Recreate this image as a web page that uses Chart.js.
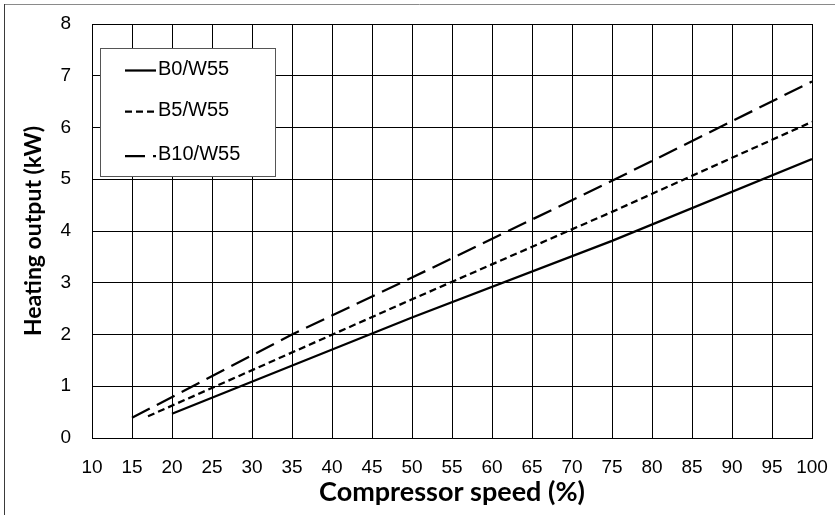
<!DOCTYPE html>
<html><head><meta charset="utf-8">
<script src="https://cdn.jsdelivr.net/npm/chart.js@4/dist/chart.umd.min.js"></script>
<style>
html,body{margin:0;padding:0;background:#fff;}
#wrap{position:relative;width:835px;height:515px;}
canvas{display:block;}
</style></head><body>
<div id="wrap"><canvas id="c" width="835" height="515"></canvas></div>
<script>
// ---- data ----
const seriesNames = ['B0/W55', 'B5/W55', 'B10/W55'];
const b0X  = [20, 50, 75, 100];
const b0Y  = [0.47, 2.33, 3.81, 5.39];
const b5X  = [17, 50, 75, 100];
const b5Y  = [0.42, 2.68, 4.37, 6.11];
const b10X = [15, 35, 50, 75, 100];
const b10Y = [0.39, 2.0, 3.1, 4.97, 6.89];
const xTickValues = [10,15,20,25,30,35,40,45,50,55,60,65,70,75,80,85,90,95,100];
const yTickValues = [0,1,2,3,4,5,6,7,8];
const xTitle = 'Compressor speed (%)';
const yTitle = 'Heating output (kW)';

const dashes = [[], [7, 4], [20, 8]];
const toPts = (xs, ys) => xs.map((x, i) => ({x, y: ys[i]}));

const frame = {
  id: 'frame',
  beforeDraw(chart) {
    const ctx = chart.ctx;
    ctx.save();
    ctx.fillStyle = '#fff';
    ctx.fillRect(0, 0, chart.width, chart.height);
    ctx.lineWidth = 1;
    ctx.strokeStyle = '#8a8a8a';
    ctx.beginPath(); ctx.moveTo(4, 4.5); ctx.lineTo(chart.width, 4.5); ctx.stroke();
    ctx.strokeStyle = '#3a3a3a';
    ctx.beginPath(); ctx.moveTo(4.5, 4); ctx.lineTo(4.5, chart.height); ctx.stroke();
    ctx.restore();
  }
};

const boxLegend = {
  id: 'boxLegend',
  afterDatasetsDraw(chart) {
    const ctx = chart.ctx;
    const a = chart.chartArea;
    const bx = a.left + 8, by = a.top + 24, bw = 175, bh = 128;
    ctx.save();
    ctx.fillStyle = '#fff';
    ctx.fillRect(bx, by, bw, bh);
    ctx.strokeStyle = '#555';
    ctx.lineWidth = 1;
    ctx.strokeRect(bx + 0.5, by + 0.5, bw, bh);
    const rows = [22.5, 63.5, 108];
    chart.data.datasets.forEach((ds, i) => {
      const y = by + rows[i];
      ctx.setLineDash(ds.borderDash || []);
      ctx.lineDashOffset = 0;
      ctx.lineWidth = 2.25;
      ctx.strokeStyle = '#000';
      ctx.beginPath(); ctx.moveTo(bx + 25, y); ctx.lineTo(bx + 56, y); ctx.stroke();
      ctx.setLineDash([]);
      ctx.fillStyle = '#000';
      ctx.font = '20px "Liberation Sans", Arial, sans-serif';
      ctx.textBaseline = 'middle';
      ctx.textAlign = 'left';
      ctx.fillText(ds.label, bx + 58, y - 1.5);
    });
    ctx.restore();
  }
};

const datasets = [
  {label: seriesNames[0], data: toPts(b0X, b0Y)},
  {label: seriesNames[1], data: toPts(b5X, b5Y)},
  {label: seriesNames[2], data: toPts(b10X, b10Y)}
].map((d, i) => Object.assign(d, {
  borderColor: '#000', backgroundColor: '#000', borderWidth: 2.25,
  borderDash: dashes[i], pointRadius: 0, tension: 0, fill: false, borderCapStyle: 'butt'
}));

new Chart(document.getElementById('c'), {
  type: 'line',
  data: {datasets},
  options: {
    responsive: false, animation: false, devicePixelRatio: 1,
    layout: {padding: {left: 4, right: 23, top: 24, bottom: 0}},
    plugins: {legend: {display: false}, tooltip: {enabled: false}},
    scales: {
      x: {
        type: 'linear', min: 10, max: 100,
        afterBuildTicks: s => { s.ticks = xTickValues.map(v => ({value: v})); },
        afterFit: s => { s.height = 77; s.paddingLeft = 0; s.paddingRight = 0; },
        grid: {color: '#000', lineWidth: 1, drawTicks: false},
        border: {color: '#000', width: 1},
        ticks: {color: '#000', font: {family: '"Liberation Sans", Arial, sans-serif', size: 19}, padding: 18, maxRotation: 0, autoSkip: false},
        title: {display: true, text: xTitle, color: '#000', font: {family: 'Lato, sans-serif', weight: 'bold', size: 27}, padding: {top: 7, bottom: 7}}
      },
      y: {
        type: 'linear', min: 0, max: 8,
        afterBuildTicks: s => { s.ticks = yTickValues.map(v => ({value: v})); },
        afterFit: s => { s.width = 88; s.paddingTop = 0; s.paddingBottom = 0; },
        grid: {color: '#000', lineWidth: 1, drawTicks: false},
        border: {color: '#000', width: 1},
        ticks: {color: '#000', font: {family: '"Liberation Sans", Arial, sans-serif', size: 19}, padding: 21, autoSkip: false},
        title: {display: true, text: yTitle, color: '#000', font: {family: 'Lato, sans-serif', weight: 'bold', size: 23}, padding: {top: 16, bottom: 16}}
      }
    }
  },
  plugins: [frame, boxLegend]
});
</script>
</body></html>
